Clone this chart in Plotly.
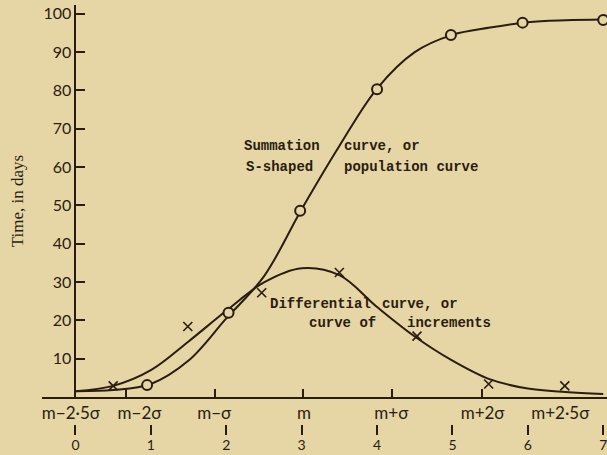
import plotly.graph_objects as go

# summation (S-shaped) curve
s_x = [0, 0.5, 1, 1.5, 2, 2.5, 3, 3.5, 4, 4.5, 5, 5.5, 6, 6.5, 7]
s_y = [1.5, 1.8, 3.4, 9.5, 20.5, 31.5, 49, 65.5, 80.5, 90, 94.5, 96.4, 97.8, 98.3, 98.5]
circ_x = [0.95, 2.03, 2.98, 4.0, 4.98, 5.93, 7.0]
circ_y = [3.1, 22, 48.6, 80.3, 94.5, 97.7, 98.4]

# differential curve (increments)
d_x = [0, 0.5, 1, 1.5, 2, 2.5, 3, 3.5, 4, 4.5, 5, 5.5, 6, 6.5, 7]
d_y = [1.5, 2.9, 7, 14.5, 22.5, 29.9, 33.6, 31.8, 23.5, 15.8, 9.5, 4.6, 2.2, 1.3, 0.8]
cross_x = [0.5, 1.49, 2.47, 3.5, 4.53, 5.48, 6.49]
cross_y = [2.9, 18.4, 27.2, 32.5, 15.9, 3.4, 2.9]

sig_ticks = [0.67, 1.85, 3.02, 4.2, 5.39]
sig_pos = [-0.06, 0.85, 1.84, 3.03, 4.19, 5.4, 6.43]
sig_text = ["m−2·5σ", "m−2σ", "m−σ", "m", "m+σ", "m+2σ", "m+2·5σ"]
num_pos = [0, 1, 2, 3, 4, 5, 6, 7]
num_text = ["0", "1", "2", "3", "4", "5", "6", "7"]
y_ticks = [10, 20, 30, 40, 50, 60, 70, 80, 90, 100]

ink = "#2a1c10"
bg = "#E6D6A6"
xr = [-0.444, 7.05]

fig = go.Figure()
fig.add_trace(go.Scatter(x=s_x, y=s_y, mode="lines", line=dict(color=ink, width=2, shape="spline")))
fig.add_trace(go.Scatter(x=d_x, y=d_y, mode="lines", line=dict(color=ink, width=2, shape="spline")))
fig.add_trace(go.Scatter(x=circ_x, y=circ_y, mode="markers",
                         marker=dict(symbol="circle", size=10, color=bg, line=dict(color=ink, width=2))))
fig.add_trace(go.Scatter(x=cross_x, y=cross_y, mode="markers",
                         marker=dict(symbol="x-thin", size=9, line=dict(color=ink, width=1.6))))
# empty traces so the two label axes get drawn
fig.add_trace(go.Scatter(x=[None], y=[None], xaxis="x2", hoverinfo="skip"))
fig.add_trace(go.Scatter(x=[None], y=[None], xaxis="x3", hoverinfo="skip"))

notes = [
    ("Summation", 2.21, 65.5), ("curve, or", 3.53, 65.5),
    ("S-shaped", 2.23, 60), ("population curve", 3.53, 60),
    ("Differential", 2.55, 24.4), ("curve, or", 4.04, 24.4),
    ("curve of", 3.07, 19.2), ("increments", 4.37, 19.2),
]
for t, x, y in notes:
    fig.add_annotation(x=x, y=y, text=t, showarrow=False, xanchor="left", yanchor="middle",
                       font=dict(family="Liberation Mono", size=14, color=ink, weight="bold"))

# plot area: paper y 5..447, main axes sit at 397
ydom0 = 50 / 442

fig.update_layout(
    width=607, height=455,
    margin=dict(l=42, r=0, t=5, b=8),
    paper_bgcolor=bg, plot_bgcolor=bg,
    showlegend=False,
    xaxis=dict(domain=[0, 1], range=xr, showline=True, linecolor=ink, linewidth=2,
               ticks="inside", tickvals=sig_ticks, ticklen=8, tickwidth=2, tickcolor=ink,
               showticklabels=False, showgrid=False, zeroline=False, automargin=False),
    xaxis2=dict(overlaying="x", anchor="y", side="bottom", range=xr, showline=False,
                showgrid=False, zeroline=False, ticks="", tickvals=sig_pos, ticktext=sig_text,
                ticklabelstandoff=4, automargin=False, ticklabeloverflow="allow",
                tickfont=dict(family="Lato", size=17, color=ink)),
    xaxis3=dict(overlaying="x", anchor="free", position=12 / 442, side="bottom", range=xr,
                showline=False, showgrid=False, zeroline=False,
                ticks="inside", ticklen=10, tickwidth=1.6, tickcolor=ink,
                tickvals=num_pos, ticktext=num_text, ticklabelstandoff=0, automargin=False,
                ticklabeloverflow="allow",
                tickfont=dict(family="Lato", size=14, color=ink)),
    yaxis=dict(domain=[ydom0, 1], range=[0, 102.3], anchor="free", position=0.444 / 7.494,
               showline=True, linecolor=ink, linewidth=2, automargin=False,
               ticks="inside", tickvals=y_ticks, ticklen=9, tickwidth=2, tickcolor=ink,
               showgrid=False, zeroline=False,
               tickfont=dict(family="Lato", size=16, color=ink),
               title=dict(text="Time, in days", standoff=14,
                          font=dict(family="Liberation Serif", size=17, color=ink))),
)
fig.write_html("out.html", config={"displayModeBar": False},
               post_script="document.body.style.margin='0';document.body.style.background='%s';" % bg)
